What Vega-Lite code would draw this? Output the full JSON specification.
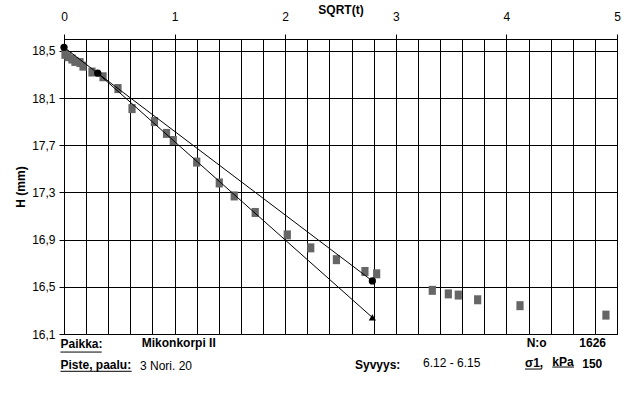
{
  "$schema": "https://vega.github.io/schema/vega-lite/v6.json",
  "width": 553,
  "height": 295,
  "autosize": {"type": "none"},
  "padding": {"left": 64, "top": 39, "right": 20, "bottom": 62},
  "background": "white",
  "config": {
    "view": {"stroke": "black", "strokeWidth": 1},
    "font": "Liberation Sans",
    "axis": {
      "labelFont": "Liberation Sans",
      "titleFont": "Liberation Sans",
      "labelFontSize": 12,
      "titleFontSize": 12,
      "labelColor": "black",
      "titleColor": "black",
      "domainColor": "black",
      "tickColor": "black",
      "gridColor": "black",
      "gridOpacity": 1
    }
  },
  "datasets": {
    "points": [
      {"x": 0.009, "y": 18.47}, {"x": 0.036, "y": 18.45}, {"x": 0.072, "y": 18.43},
      {"x": 0.099, "y": 18.41}, {"x": 0.145, "y": 18.40}, {"x": 0.172, "y": 18.37},
      {"x": 0.253, "y": 18.32}, {"x": 0.353, "y": 18.28}, {"x": 0.488, "y": 18.18},
      {"x": 0.615, "y": 18.01}, {"x": 0.818, "y": 17.90}, {"x": 0.927, "y": 17.80},
      {"x": 0.988, "y": 17.74}, {"x": 1.20, "y": 17.557}, {"x": 1.404, "y": 17.38},
      {"x": 1.539, "y": 17.27}, {"x": 1.729, "y": 17.13}, {"x": 2.019, "y": 16.94},
      {"x": 2.231, "y": 16.83}, {"x": 2.463, "y": 16.73}, {"x": 2.721, "y": 16.63},
      {"x": 2.827, "y": 16.61}, {"x": 3.33, "y": 16.47}, {"x": 3.475, "y": 16.44},
      {"x": 3.565, "y": 16.43}, {"x": 3.74, "y": 16.39}, {"x": 4.123, "y": 16.34},
      {"x": 4.90, "y": 16.26}
    ],
    "lines": [
      {"series": "A", "x": 0, "y": 18.53},
      {"series": "A", "x": 0.305, "y": 18.31},
      {"series": "A", "x": 2.788, "y": 16.55},
      {"series": "B", "x": 0.305, "y": 18.31},
      {"series": "B", "x": 2.788, "y": 16.24}
    ],
    "markers": [
      {"type": "circle", "x": 0, "y": 18.53},
      {"type": "circle", "x": 0.305, "y": 18.31},
      {"type": "circle", "x": 2.788, "y": 16.55},
      {"type": "triangle", "x": 2.788, "y": 16.24}
    ],
    "boldNotes": [
      {"text": "Paikka:", "x": -0.032, "y": 15.981},
      {"text": "Piste, paalu:", "x": -0.032, "y": 15.803},
      {"text": "Mikonkorpi II", "x": 0.703, "y": 15.994},
      {"text": "N:o", "x": 4.183, "y": 15.994},
      {"text": "1626", "x": 4.659, "y": 15.99},
      {"text": "Syvyys:", "x": 2.631, "y": 15.803},
      {"text": "σ1,", "x": 4.168, "y": 15.82},
      {"text": "kPa", "x": 4.415, "y": 15.829},
      {"text": "150", "x": 4.686, "y": 15.81}
    ],
    "plainNotes": [
      {"text": "3 Nori. 20", "x": 0.687, "y": 15.799},
      {"text": "6.12 - 6.15", "x": 3.246, "y": 15.824}
    ],
    "underlines": [
      {"x": -0.032, "x2": 0.341, "y": 15.947},
      {"x": -0.032, "x2": 0.612, "y": 15.784},
      {"x": 4.168, "x2": 4.319, "y": 15.803},
      {"x": 4.415, "x2": 4.611, "y": 15.82}
    ]
  },
  "layer": [
    {
      "data": {"name": "points"},
      "mark": {"type": "point", "shape": "M-0.8,-1H0.8V1H-0.8Z", "filled": true, "size": 81, "color": "#666666", "opacity": 1, "strokeWidth": 0},
      "encoding": {
        "x": {
          "field": "x", "type": "quantitative",
          "scale": {"domain": [0, 5], "nice": false, "zero": false},
          "axis": {
            "orient": "bottom",
            "values": [0, 0.2, 0.4, 0.6, 0.8, 1, 1.2, 1.4, 1.6, 1.8, 2, 2.2, 2.4, 2.6, 2.8, 3, 3.2, 3.4, 3.6, 3.8, 4, 4.2, 4.4, 4.6, 4.8, 5],
            "grid": true, "gridWidth": 1, "labels": false, "ticks": false, "domain": false, "title": null
          }
        },
        "y": {
          "field": "y", "type": "quantitative",
          "scale": {"domain": [16.1, 18.6], "nice": false, "zero": false},
          "axis": {
            "values": [16.1, 16.5, 16.9, 17.3, 17.7, 18.1, 18.5],
            "grid": true, "gridWidth": 1,
            "tickSize": 5, "labelPadding": 4,
            "labelExpr": "replace(format(datum.value, '.1f'), '.', ',')",
            "title": "H (mm)", "titleFontWeight": "bold", "titlePadding": 4
          }
        }
      }
    },
    {
      "data": {"name": "lines"},
      "mark": {"type": "line", "color": "black", "strokeWidth": 1},
      "encoding": {
        "x": {
          "field": "x", "type": "quantitative",
          "scale": {"domain": [0, 5], "nice": false, "zero": false},
          "axis": {
            "orient": "top", "values": [0, 1, 2, 3, 4, 5], "grid": false,
            "tickSize": 5, "labelPadding": 11, "labelFlush": false,
            "title": "SQRT(t)", "titleFontWeight": "bold", "titlePadding": -6
          }
        },
        "y": {"field": "y", "type": "quantitative", "scale": {"domain": [16.1, 18.6], "nice": false, "zero": false}, "axis": null},
        "detail": {"field": "series"}
      }
    },
    {
      "data": {"name": "markers"},
      "mark": {"type": "point", "filled": true, "size": 52, "color": "black", "opacity": 1},
      "encoding": {
        "x": {"field": "x", "type": "quantitative", "axis": null},
        "y": {"field": "y", "type": "quantitative", "axis": null},
        "shape": {"field": "type", "type": "nominal", "scale": {"domain": ["circle", "triangle"], "range": ["circle", "triangle-up"]}, "legend": null}
      }
    },
    {
      "data": {"name": "boldNotes"},
      "mark": {"type": "text", "align": "left", "baseline": "alphabetic", "fontSize": 12, "fontWeight": "bold", "color": "black"},
      "encoding": {
        "x": {"field": "x", "type": "quantitative", "axis": null},
        "y": {"field": "y", "type": "quantitative", "axis": null},
        "text": {"field": "text"}
      }
    },
    {
      "data": {"name": "plainNotes"},
      "mark": {"type": "text", "align": "left", "baseline": "alphabetic", "fontSize": 12, "color": "black"},
      "encoding": {
        "x": {"field": "x", "type": "quantitative", "axis": null},
        "y": {"field": "y", "type": "quantitative", "axis": null},
        "text": {"field": "text"}
      }
    },
    {
      "data": {"name": "underlines"},
      "mark": {"type": "rule", "color": "black", "strokeWidth": 1},
      "encoding": {
        "x": {"field": "x", "type": "quantitative", "axis": null},
        "x2": {"field": "x2"},
        "y": {"field": "y", "type": "quantitative", "axis": null}
      }
    }
  ],
  "resolve": {"axis": {"x": "independent", "y": "independent"}}
}
